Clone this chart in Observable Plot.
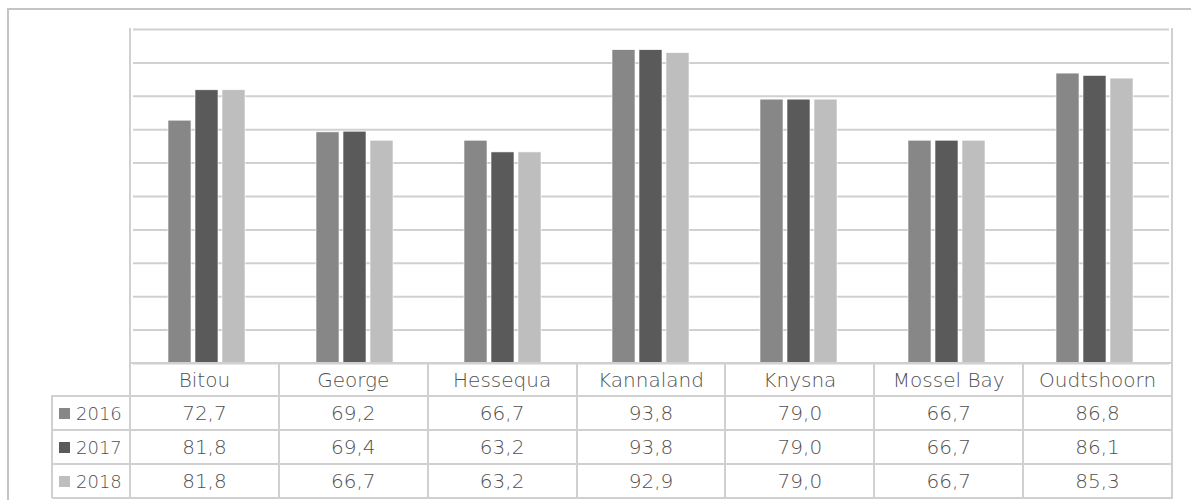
<!DOCTYPE html>
<html><head><meta charset="utf-8">
<script src="https://cdn.jsdelivr.net/npm/d3@7"></script>
<script src="https://cdn.jsdelivr.net/npm/@observablehq/plot@0.6"></script>
<style>
html,body{margin:0;padding:0;background:#fff;overflow:hidden;}
#wrap{position:relative;width:1191px;height:500px;overflow:hidden;font-family:"DejaVu Sans",sans-serif;color:#505050;font-weight:300;}
#wrap svg{position:absolute;left:0;top:0;}
.frame{position:absolute;left:7px;top:8px;width:1220px;height:540px;border:2px solid #c4c4c4;box-sizing:border-box;}
.hl{position:absolute;height:2px;background:#d0d0d0;}
.vl{position:absolute;width:2px;background:#d0d0d0;}
.cell{position:absolute;display:flex;align-items:center;justify-content:center;font-size:20px;white-space:nowrap;}
.lab{position:absolute;display:flex;align-items:center;font-size:18px;}
.sw{display:inline-block;width:11px;height:11px;margin-right:6px;}
</style></head><body><div id="wrap"><div class="frame"></div></div>
<script>
const categories = ["Bitou","George","Hessequa","Kannaland","Knysna","Mossel Bay","Oudtshoorn"];
const years = ["2016","2017","2018"];
const values2016 = [72.7,69.2,66.7,93.8,79.0,66.7,86.8];
const values2017 = [81.8,69.4,63.2,93.8,79.0,66.7,86.1];
const values2018 = [81.8,66.7,63.2,92.9,79.0,66.7,85.3];
const yearColors = ["#878787","#5a5a5a","#bebebe"];
const yTicks = [0,10,20,30,40,50,60,70,80,90,100];

const series = [values2016, values2017, values2018];
const rows = [];
categories.forEach((c, i) => years.forEach((yr, j) => rows.push({cat: c, year: yr, value: series[j][i]})));

const fig = Plot.plot({
  width: 1191, height: 500,
  marginTop: 29, marginBottom: 137, marginLeft: 130, marginRight: 19,
  fx: {domain: categories, padding: 0, axis: null},
  x: {domain: years, paddingInner: 0.136, paddingOuter: 1.3, axis: null},
  y: {domain: [0, 100], axis: null},
  color: {domain: years, range: yearColors},
  marks: [
    Plot.gridY(yTicks, {stroke: "#d0d0d0", strokeOpacity: 1, strokeWidth: 2}),
    Plot.barY(rows, {fx: "cat", x: "year", y: "value", fill: "year", stroke: "#ffffff", strokeWidth: 0.6})
  ]
});
fig.style.background = "transparent";
const wrap = document.getElementById("wrap");
wrap.appendChild(fig);

// table below the chart, aligned to the plot's own scales
const fxs = fig.scale("fx");
const band = d3.scaleBand().domain(fxs.domain).range(fxs.range).paddingInner(0).paddingOuter(0);
const ys = fig.scale("y");
const y0 = ys.apply ? ys.apply(0) : 363;
const yTop = ys.apply ? ys.apply(100) : 29;
const left = band.range()[0], right = band.range()[1];
const labelLeft = 52;
const rowB = [y0, y0 + 33, y0 + 67, y0 + 101, y0 + 135];

function add(cls, css, text) {
  const d = document.createElement("div");
  d.className = cls;
  Object.assign(d.style, css);
  if (text != null) d.textContent = text;
  wrap.appendChild(d);
  return d;
}
add("hl", {left: left + "px", top: (rowB[0] - 1) + "px", width: (right - left + 1) + "px"});
for (let k = 1; k < rowB.length; k++) add("hl", {left: labelLeft + "px", top: (rowB[k] - 1) + "px", width: (right - labelLeft + 1) + "px"});
add("vl", {left: (left - 1) + "px", top: (yTop - 1) + "px", height: (rowB[4] - yTop + 1) + "px"});
add("vl", {left: (right - 1) + "px", top: (yTop - 1) + "px", height: (rowB[4] - yTop + 1) + "px"});
add("vl", {left: (labelLeft - 1) + "px", top: (rowB[1] - 1) + "px", height: (rowB[4] - rowB[1] + 1) + "px"});
categories.forEach((c, i) => {
  const x = band(c);
  if (i > 0) add("vl", {left: (x - 1) + "px", top: (rowB[0] - 1) + "px", height: (rowB[4] - rowB[0] + 1) + "px"});
  add("cell", {left: x + "px", width: band.bandwidth() + "px", top: rowB[0] + "px", height: (rowB[1] - rowB[0]) + "px"}, c);
  series.forEach((s, j) => {
    add("cell", {left: x + "px", width: band.bandwidth() + "px", top: rowB[j + 1] + "px", height: (rowB[j + 2] - rowB[j + 1]) + "px"}, s[i].toFixed(1).replace(".", ","));
  });
});
years.forEach((yr, j) => {
  const d = add("lab", {left: (labelLeft + 7) + "px", top: rowB[j + 1] + "px", height: (rowB[j + 2] - rowB[j + 1]) + "px"});
  const sw = document.createElement("span");
  sw.className = "sw"; sw.style.background = yearColors[j];
  d.appendChild(sw);
  d.appendChild(document.createTextNode(yr));
});
</script></body></html>
